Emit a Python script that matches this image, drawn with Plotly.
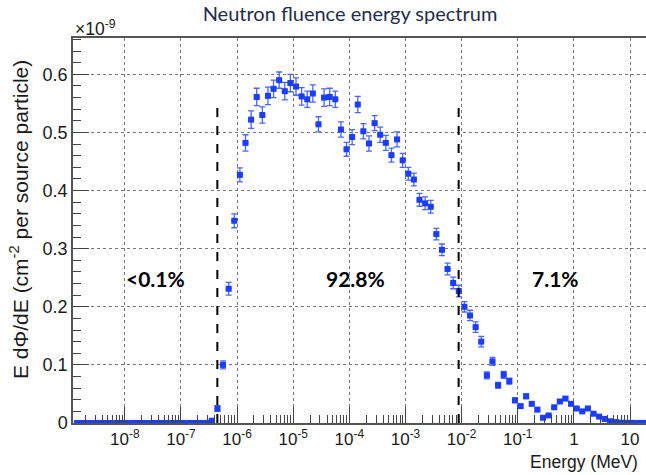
import numpy as np
import plotly.graph_objects as go

# ---- binning of the fluence histogram: 10 log-spaced bins per decade ----
LOG_E_LOW = -8.9
LOG_E_HIGH = 1.3
N_BINS = 102

# E dPhi/dE per bin, in units of 1e-9 cm^-2 per source particle
fluence = [
    0.0, 0.0, 0.0, 0.0, 0.0, 0.0, 0.0, 0.0, 0.0, 0.0,
    0.0, 0.0, 0.0, 0.0, 0.0, 0.0, 0.0, 0.0, 0.0, 0.0,
    0.0, 0.0, 0.0, 0.0, 0.004, 0.025, 0.100, 0.231, 0.348, 0.427,
    0.482, 0.522, 0.561, 0.530, 0.563, 0.575, 0.590, 0.571, 0.585, 0.579,
    0.562, 0.557, 0.567, 0.514, 0.560, 0.561, 0.557, 0.505, 0.471, 0.492,
    0.548, 0.502, 0.481, 0.516, 0.496, 0.482, 0.461, 0.488, 0.452, 0.429,
    0.419, 0.384, 0.378, 0.372, 0.325, 0.298, 0.265, 0.241, 0.227, 0.200,
    0.185, 0.165, 0.140, 0.082, 0.106, 0.065, 0.083, 0.072, 0.039, 0.029,
    0.046, 0.033, 0.023, 0.009, 0.013, 0.027, 0.037, 0.042, 0.033, 0.025,
    0.020, 0.025, 0.016, 0.011, 0.007, 0.003, 0.0016, 0.0006, 0.0003, 0.0002,
    0.0001, 0.0001,
]

# statistical uncertainty per bin, same units
fluence_err = [
    0.0, 0.0, 0.0, 0.0, 0.0, 0.0, 0.0, 0.0, 0.0, 0.0,
    0.0, 0.0, 0.0, 0.0, 0.0, 0.0, 0.0, 0.0, 0.0, 0.0,
    0.0, 0.0, 0.0, 0.0, 0.002, 0.005, 0.007, 0.011, 0.012, 0.012,
    0.014, 0.015, 0.015, 0.014, 0.015, 0.015, 0.014, 0.015, 0.015, 0.015,
    0.015, 0.014, 0.015, 0.013, 0.015, 0.015, 0.014, 0.013, 0.012, 0.013,
    0.014, 0.013, 0.013, 0.013, 0.013, 0.013, 0.012, 0.013, 0.012, 0.011,
    0.011, 0.011, 0.011, 0.011, 0.010, 0.010, 0.010, 0.010, 0.010, 0.009,
    0.009, 0.009, 0.009, 0.006, 0.007, 0.005, 0.006, 0.005, 0.004, 0.003,
    0.004, 0.003, 0.003, 0.002, 0.002, 0.003, 0.003, 0.003, 0.003, 0.002,
    0.002, 0.002, 0.002, 0.001, 0.001, 0.001, 0.0, 0.0, 0.0, 0.0,
    0.0, 0.0,
]

# energy cuts separating the thermal / epithermal / fast regions (MeV)
CUT_LOW_MEV = 4.45e-7
CUT_HIGH_MEV = 8.85e-3
CUT_LINE_TOP = 0.55

# fraction of the fluence in each region
region_text = ["<0.1%", "92.8%", "7.1%"]
region_text_energy = [3.56e-8, 1.31e-4, 0.47]
REGION_TEXT_LEVEL = 0.249

x_tick_vals = [1e-8, 1e-7, 1e-6, 1e-5, 1e-4, 1e-3, 1e-2, 1e-1, 1, 10]
x_tick_text = ["10<sup>-8</sup>", "10<sup>-7</sup>", "10<sup>-6</sup>",
               "10<sup>-5</sup>", "10<sup>-4</sup>", "10<sup>-3</sup>",
               "10<sup>-2</sup>", "10<sup>-1</sup>", "1", "10"]
y_tick_vals = [0, 0.1, 0.2, 0.3, 0.4, 0.5, 0.6]
y_tick_text = ["0", "0.1", "0.2", "0.3", "0.4", "0.5", "0.6"]

# ---- derived bin geometry ----
edges = np.logspace(LOG_E_LOW, LOG_E_HIGH, N_BINS + 1)
centres = np.sqrt(edges[:-1] * edges[1:])
half_hi = edges[1:] - centres
half_lo = centres - edges[:-1]

minor_x = [m * 10.0 ** p for p in range(-9, 2) for m in range(2, 10)]

BLUE = "#1a3dff"
AXIS_FONT = "Liberation Sans, Arial, sans-serif"
TEXT_COL = "#1a1a1a"

fig = go.Figure()

fig.add_trace(go.Scatter(
    x=centres, y=fluence, mode="markers",
    marker=dict(symbol="square", size=6, color=BLUE),
    error_y=dict(type="data", array=fluence_err, visible=True,
                 color="#4a66ff", thickness=1.3, width=3),
    error_x=dict(type="data", symmetric=False, array=half_hi,
                 arrayminus=half_lo, visible=True,
                 color=BLUE, thickness=1.5, width=0),
    showlegend=False, hoverinfo="skip",
))

for e_cut in (CUT_LOW_MEV, CUT_HIGH_MEV):
    fig.add_trace(go.Scatter(
        x=[e_cut, e_cut], y=[0, CUT_LINE_TOP], mode="lines",
        line=dict(color="black", width=2, dash="dash"),
        showlegend=False, hoverinfo="skip",
    ))

for txt, e in zip(region_text, region_text_energy):
    fig.add_annotation(
        x=np.log10(e), y=REGION_TEXT_LEVEL, xref="x", yref="y",
        text=f"<b>{txt}</b>", showarrow=False,
        font=dict(family="Lato, sans-serif", size=21, color="black"),
        xanchor="center", yanchor="middle",
    )

PLOT_L, PLOT_T, PLOT_B = 73, 38, 52
W, H = 646, 475
plot_h = H - PLOT_T - PLOT_B
plot_w = W - PLOT_L

fig.update_xaxes(
    type="log", range=[-8.923, 1.285],
    tickvals=x_tick_vals, ticktext=x_tick_text,
    ticks="inside", ticklen=16, tickwidth=1, tickcolor="#444",
    minor=dict(tickvals=minor_x, ticks="inside", ticklen=8,
               tickwidth=1, tickcolor="#444", showgrid=False),
    showgrid=True, gridcolor="#777", griddash="dot", gridwidth=1,
    showline=True, linecolor="#555", linewidth=1.5, mirror=True,
    tickfont=dict(family=AXIS_FONT, size=17, color=TEXT_COL),
    zeroline=False, automargin=False,
)
fig.update_yaxes(
    range=[0, 0.6625],
    tickvals=y_tick_vals, ticktext=y_tick_text,
    ticks="inside", ticklen=16, tickwidth=1, tickcolor="#444",
    minor=dict(dtick=0.02, ticks="inside", ticklen=8,
               tickwidth=1, tickcolor="#444", showgrid=False),
    showgrid=True, gridcolor="#777", griddash="dot", gridwidth=1,
    showline=True, linecolor="#555", linewidth=1.5, mirror=True,
    tickfont=dict(family=AXIS_FONT, size=18, color=TEXT_COL),
    zeroline=False, automargin=False,
)

# axis titles and exponent marker
fig.add_annotation(
    xref="paper", yref="paper", x=(640 - PLOT_L) / plot_w,
    y=-(462 - (H - PLOT_B)) / plot_h,
    text="Energy (MeV)", showarrow=False, xanchor="right", yanchor="middle",
    font=dict(family=AXIS_FONT, size=17.5, color=TEXT_COL),
)
fig.add_annotation(
    xref="paper", yref="paper", x=-(PLOT_L - 19) / plot_w,
    y=((H - PLOT_B) - 220) / plot_h,
    text="E dΦ/dE (cm<sup>-2</sup> per source particle)", textangle=-90,
    showarrow=False, xanchor="center", yanchor="middle",
    font=dict(family=AXIS_FONT, size=21, color=TEXT_COL),
)
fig.add_annotation(
    xref="paper", yref="paper", x=0, y=1 + (PLOT_T - 28) / plot_h,
    text="×10<sup>-9</sup>", showarrow=False, xanchor="left", yanchor="middle",
    font=dict(family=AXIS_FONT, size=17.5, color=TEXT_COL),
)

fig.update_layout(
    width=W, height=H,
    margin=dict(l=PLOT_L, r=0, t=PLOT_T, b=PLOT_B, autoexpand=False),
    paper_bgcolor="white", plot_bgcolor="white",
    title=dict(text="Neutron fluence energy spectrum",
               x=350 / W, xanchor="center", y=1 - 14 / H, yanchor="middle",
               font=dict(family="Lato, sans-serif", size=20, color="#1f2d4a")),
)

fig.write_html("out.html")
